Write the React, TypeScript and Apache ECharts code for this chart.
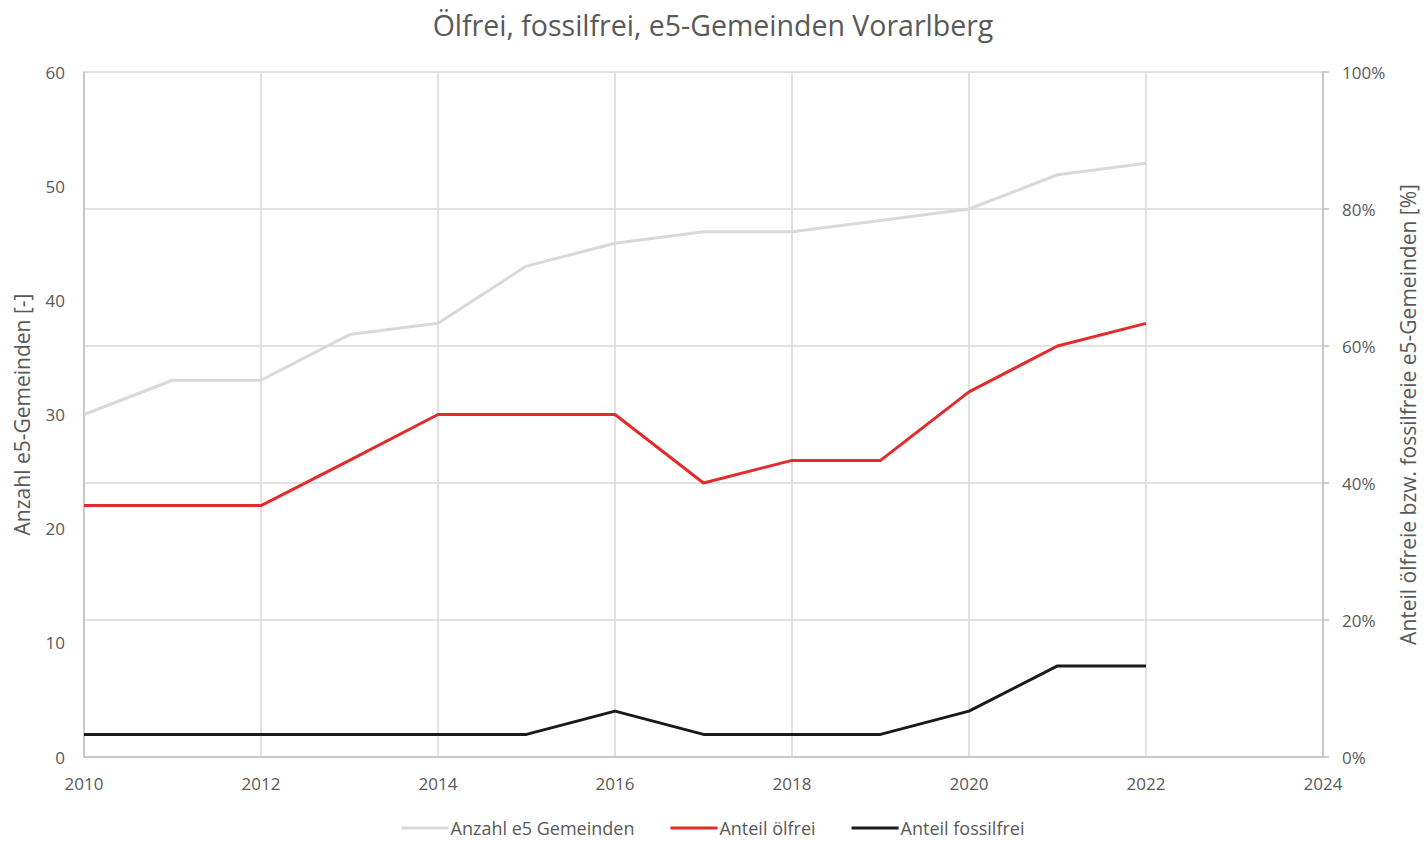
import React, { useEffect, useRef } from "react";
import * as echarts from "echarts";

const years = [2010, 2011, 2012, 2013, 2014, 2015, 2016, 2017, 2018, 2019, 2020, 2021, 2022];
const anzahlE5 = [30, 33, 33, 37, 38, 43, 45, 46, 46, 47, 48, 51, 52];
const anteilOelfrei = [36.7, 36.7, 36.7, 43.3, 50, 50, 50, 40, 43.3, 43.3, 53.3, 60, 63.3];
const anteilFossilfrei = [3.3, 3.3, 3.3, 3.3, 3.3, 3.3, 6.7, 3.3, 3.3, 3.3, 6.7, 13.3, 13.3];

const FONT = "'Open Sans', 'Noto Sans', sans-serif";
const TXT = "#595959";

export default function App() {
  const ref = useRef<HTMLDivElement>(null);
  useEffect(() => {
    if (!ref.current) return;
    const chart = echarts.init(ref.current, undefined, { renderer: "svg" });
    const pair = (vals: number[]) => years.map((y, i) => [y, vals[i]]);
    chart.setOption({
      animation: false,
      backgroundColor: "#fff",
      textStyle: { fontFamily: FONT, color: TXT },
      title: {
        text: "Ölfrei, fossilfrei, e5-Gemeinden Vorarlberg",
        left: "center",
        top: 5,
        textStyle: { fontFamily: FONT, fontSize: 28.5, fontWeight: "normal", color: TXT },
      },
      grid: { left: 84, right: 98, top: 72, bottom: 85, containLabel: false },
      legend: {
        bottom: 0,
        left: "center",
        icon: "rect",
        itemWidth: 47,
        itemHeight: 3,
        itemGap: 36,
        textStyle: { fontFamily: FONT, fontSize: 18, color: TXT, padding: [0, 0, 0, -3] },
        data: ["Anzahl e5 Gemeinden", "Anteil ölfrei", "Anteil fossilfrei"],
      },
      xAxis: {
        type: "value",
        min: 2010,
        max: 2024,
        interval: 2,
        axisLine: { show: true, lineStyle: { color: "#bfbfbf", width: 1.5 } },
        axisTick: { show: false },
        axisLabel: { fontFamily: FONT, fontSize: 17, color: TXT, margin: 18, formatter: (v: number) => String(v) },
        splitLine: { show: true, lineStyle: { color: "#d9d9d9", width: 1.5 } },
      },
      yAxis: [
        {
          type: "value",
          min: 0,
          max: 60,
          interval: 10,
          name: "Anzahl e5-Gemeinden [-]",
          nameLocation: "middle",
          nameGap: 52,
          nameTextStyle: { fontFamily: FONT, fontSize: 21, color: TXT },
          axisLine: { show: true, lineStyle: { color: "#bfbfbf", width: 1.5 } },
          axisTick: { show: false },
          axisLabel: { fontFamily: FONT, fontSize: 17, color: TXT, margin: 19 },
          splitLine: { show: false },
        },
        {
          type: "value",
          min: 0,
          max: 100,
          interval: 20,
          position: "right",
          name: "Anteil ölfreie bzw. fossilfreie e5-Gemeinden [%]",
          nameLocation: "middle",
          nameGap: 74,
          nameRotate: 90,
          nameTextStyle: { fontFamily: FONT, fontSize: 21, color: TXT },
          axisLine: { show: true, lineStyle: { color: "#bfbfbf", width: 1.5 } },
          axisTick: { show: true, length: 6, lineStyle: { color: "#bfbfbf", width: 1.5 } },
          axisLabel: { fontFamily: FONT, fontSize: 17, color: TXT, margin: 19, formatter: "{value}%" },
          splitLine: { show: true, lineStyle: { color: "#d9d9d9", width: 1.5 } },
        },
      ],
      series: [
        {
          name: "Anzahl e5 Gemeinden",
          type: "line",
          yAxisIndex: 0,
          data: pair(anzahlE5),
          symbol: "none",
          lineStyle: { color: "#d9d9d9", width: 3 },
          itemStyle: { color: "#d9d9d9" },
        },
        {
          name: "Anteil ölfrei",
          type: "line",
          yAxisIndex: 1,
          data: pair(anteilOelfrei),
          symbol: "none",
          lineStyle: { color: "#e42b2b", width: 3 },
          itemStyle: { color: "#e42b2b" },
        },
        {
          name: "Anteil fossilfrei",
          type: "line",
          yAxisIndex: 1,
          data: pair(anteilFossilfrei),
          symbol: "none",
          lineStyle: { color: "#1a1a1a", width: 3 },
          itemStyle: { color: "#1a1a1a" },
        },
      ],
    });
    return () => chart.dispose();
  }, []);
  return <div ref={ref} style={{ width: 1426, height: 842, position: "absolute", left: 0, top: 0 }} />;
}
